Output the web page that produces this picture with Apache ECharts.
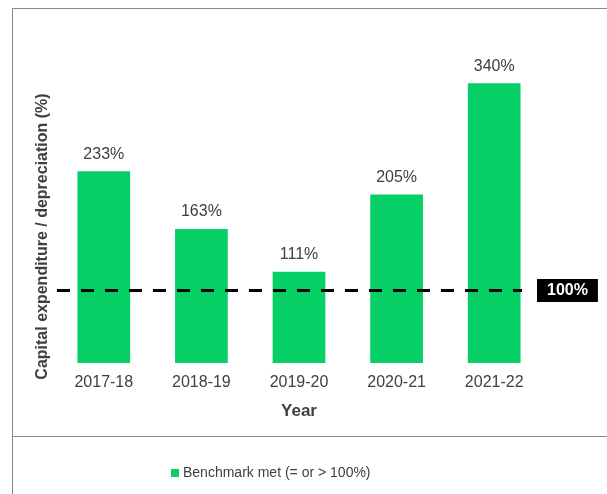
<!DOCTYPE html>
<html>
<head>
<meta charset="utf-8">
<script src="https://cdn.jsdelivr.net/npm/echarts@6/dist/echarts.min.js"></script>
<style>
  html, body { margin: 0; padding: 0; background: #fff; }
  #wrap { position: relative; width: 607px; height: 494px; overflow: hidden; }
  #frame { position: absolute; left: 12px; top: 8px; width: 620px; height: 520px; border: 1px solid #8a8a8a; box-sizing: border-box; }
  #divider { position: absolute; left: 12px; top: 436px; width: 600px; height: 0; border-top: 1px solid #8a8a8a; }
  #chart { position: absolute; left: 0; top: 0; width: 607px; height: 494px; }
</style>
</head>
<body>
<div id="wrap">
  <div id="frame"></div>
  <div id="divider"></div>
  <div id="chart"></div>
</div>
<script>
// data
const years = ['2017-18', '2018-19', '2019-20', '2020-21', '2021-22']
const ratios = [233, 163, 111, 205, 340]
const benchmarkLabel = '100%'
// where the dashed benchmark line sits in the picture (drawn a bit below 100)
const benchmarkLineAt = 88

const green = '#05cf65'
const textColor = '#404040'

const chart = echarts.init(document.getElementById('chart'))

const option = {
  textStyle: { fontFamily: 'Liberation Sans, Arial, sans-serif' },
  animation: false,
  grid: {
    left: 55,
    right: 64,
    top: 34,
    bottom: 131
  },
  legend: {
    left: 166,
    top: 461,
    itemWidth: 8,
    itemHeight: 8,
    icon: 'rect',
    itemGap: 4,
    textStyle: { fontSize: 14, color: textColor, padding: [0, 0, 0, -1] },
    data: ['Benchmark met (= or > 100%)']
  },
  xAxis: {
    type: 'category',
    data: years,
    name: 'Year',
    nameLocation: 'middle',
    nameGap: 40,
    nameTextStyle: { fontSize: 17, fontWeight: 'bold', color: textColor },
    axisLine: { show: false },
    axisTick: { show: false },
    axisLabel: { fontSize: 16, color: textColor, margin: 12 }
  },
  yAxis: {
    type: 'value',
    min: 0,
    max: 400,
    name: 'Capital expenditure / depreciation (%)',
    nameLocation: 'middle',
    nameGap: 4,
    nameTextStyle: { fontSize: 16, fontWeight: 'bold', color: textColor, padding: [0, 76, 0, 0] },
    axisLine: { show: false },
    axisTick: { show: false },
    axisLabel: { show: false },
    splitLine: { show: false }
  },
  series: [
    {
      name: 'Benchmark met (= or > 100%)',
      type: 'bar',
      data: ratios,
      barWidth: '54%',
      itemStyle: { color: green },
      label: {
        show: true,
        position: 'top',
        distance: 9,
        fontSize: 16,
        color: textColor,
        formatter: '{c}%'
      },
      markLine: {
        silent: true,
        symbol: 'none',
        lineStyle: { color: '#000', width: 3, type: [13, 11] },
        label: {
          show: true,
          position: 'end',
          distance: 15,
          formatter: benchmarkLabel,
          backgroundColor: '#000',
          color: '#fff',
          fontWeight: 'bold',
          fontSize: 16,
          padding: [4, 10, 3, 10]
        },
        data: [
          [{ x: 57, yAxis: benchmarkLineAt }, { x: 522, yAxis: benchmarkLineAt }]
        ]
      }
    }
  ]
}

chart.setOption(option)
</script>
</body>
</html>
